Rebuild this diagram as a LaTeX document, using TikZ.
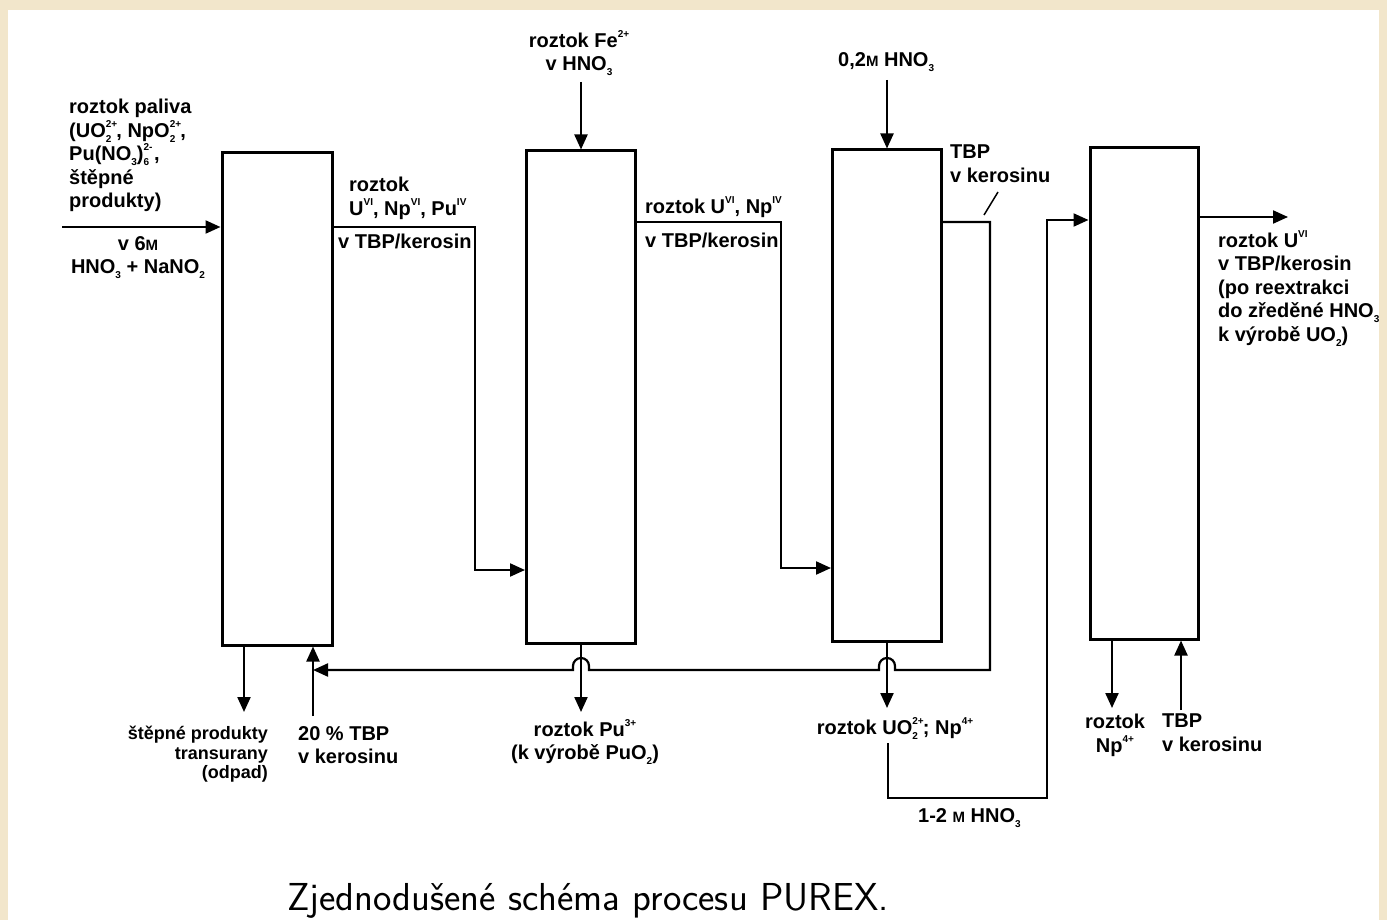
\documentclass[tikz,border=0pt]{standalone}
\usepackage{fontspec}
\setmainfont{Liberation Sans}
\usetikzlibrary{arrows.meta,calc}
\definecolor{paper}{HTML}{F2E6CB}
\newcommand\mysup[1]{\raisebox{0.5em}{\fontsize{10}{10}\selectfont #1}}
\newcommand\mysub[1]{\raisebox{-0.25em}{\fontsize{10}{10}\selectfont #1}}
\newcommand\mych[2]{\makebox[0pt][l]{\mysup{#2}}\mysub{#1}}
\newcommand\smM{{\fontsize{15}{15}\selectfont M}}
\begin{document}
\begin{tikzpicture}[x=1pt,y=-1pt,
  box/.style={draw,line width=3pt,inner sep=0pt},
  conn/.style={line width=2.2pt},
  arr/.style={conn,-{Triangle[length=15pt,width=13pt]}},
  lbl/.style={inner sep=0pt,align=left,font=\fontsize{20}{23.5}\selectfont\bfseries},
  lblc/.style={lbl,align=center},
  small/.style={inner sep=0pt,align=right,font=\fontsize{18}{19.5}\selectfont\bfseries}]
\useasboundingbox (0,0) rectangle (1387,920);
\fill[paper] (0,0) rectangle (1387,920);
\fill[white] (8,10) rectangle (1379,920);

% columns
\node[box,minimum width=110pt,minimum height=492pt] (b1) at (277,399) {};
\node[box,minimum width=109pt,minimum height=492pt] (b2) at (581,397) {};
\node[box,minimum width=109pt,minimum height=491pt] (b3) at (887,395.5) {};
\node[box,minimum width=108pt,minimum height=491pt] (b4) at (1144,393.5) {};

% coordinates
\coordinate (fin) at (62,227);
\coordinate (c1a) at (475,227);
\coordinate (c1b) at (475,570);
\coordinate (c2a) at (781,222);
\coordinate (c2b) at (781,568);
\coordinate (c3a) at (990,222);
\coordinate (c3b) at (990,670);
\coordinate (tbpin) at (313,716);
\coordinate (odp) at (244,712);
\coordinate (fein) at (581,82);
\coordinate (hin) at (887,80);
\coordinate (puout) at (581,712);
\coordinate (uoout) at (887,708);
\coordinate (uo1) at (888,743);
\coordinate (uo2) at (888,798);
\coordinate (uo3) at (1047,798);
\coordinate (uo4) at (1047,220);
\coordinate (uout) at (1288,217);
\coordinate (npout) at (1112,708);
\coordinate (tbp2in) at (1181,710);
\coordinate (tk1) at (998,192);
\coordinate (tk2) at (984,215);

% connectors
\draw[arr] (fin) -- (fin -| b1.west);
\draw[arr] (b1.east |- c1a) -- (c1a) -- (c1b) -- (b2.west |- c1b);
\draw[arr] (b2.east |- c2a) -- (c2a) -- (c2b) -- (b3.west |- c2b);
\draw[arr] (b3.east |- c3a) -- (c3a) -- (c3b) -- (895,670) -- (895,666)
  arc[start angle=0,end angle=-180,radius=8] -- (879,670) -- (589,670) -- (589,666)
  arc[start angle=0,end angle=-180,radius=8] -- (573,670) -- (tbpin |- c3b);
\draw[arr] (tbpin) -- (tbpin |- b1.south);
\draw[arr] (odp |- b1.south) -- (odp);
\draw[arr] (fein) -- (b2.north);
\draw[arr] (hin) -- (b3.north);
\draw[arr] (b2.south) -- (puout);
\draw[arr] (b3.south) -- (uoout);
\draw[arr] (uo1) -- (uo2) -- (uo3) -- (uo4) -- (b4.west |- uo4);
\draw[arr] (b4.east |- uout) -- (uout);
\draw[arr] (npout |- b4.south) -- (npout);
\draw[arr] (tbp2in) -- (tbp2in |- b4.south);
\draw[conn,line width=1.5pt] (tk1) -- (tk2);

% labels
\node[lbl,anchor=north west] (lfeed) at (69,99) {roztok paliva\\(UO\mych{2}{2+}\hspace{5pt}, NpO\mych{2}{2+}\hspace{5pt},\\Pu(NO\mysub{3})\mych{6}{2-}\hspace{5pt},\\štěpné\\produkty)};
\node[lblc,anchor=north] (lfeed2) at (138,236) {v 6\smM\\HNO\mysub{3} + NaNO\mysub{2}};
\node[lbl,anchor=north west] (lr1) at (349,177) {roztok\\U\mysup{VI}, Np\mysup{VI}, Pu\mysup{IV}};
\node[lbl,anchor=north west] (lk1) at (338,234) {v TBP/kerosin};
\node[lblc,anchor=north] (lfe) at (579,30) {roztok Fe\mysup{2+}\\v HNO\mysub{3}};
\node[lbl,anchor=north west] (l02) at (838,52) {0,2\smM\ HNO\mysub{3}};
\node[lbl,anchor=north west] (lr2) at (645,196) {roztok U\mysup{VI}, Np\mysup{IV}};
\node[lbl,anchor=north west] (lk2) at (645,233) {v TBP/kerosin};
\node[lbl,anchor=north west] (ltbp) at (950,145) {TBP\\v kerosinu};
\node[lbl,anchor=north west] (lout) at (1218,230) {roztok U\mysup{VI}\\v TBP/kerosin\\(po reextrakci\\do zředěné HNO\mysub{3}\\k výrobě UO\mysub{2})};
\node[small,anchor=north east] (lodp) at (268,726) {štěpné produkty\\transurany\\(odpad)};
\node[lbl,anchor=north west] (l20) at (298,726) {20 \% TBP\\v kerosinu};
\node[lblc,anchor=north] (lpu) at (585,719) {roztok Pu\mysup{3+}\\(k výrobě PuO\mysub{2})};
\node[lbl,anchor=north] (luo) at (895,717) {roztok UO\mych{2}{2+}\hspace{5pt}; Np\mysup{4+}};
\node[lbl,anchor=north west] (lhno) at (918,808) {1-2 \smM\ HNO\mysub{3}};
\node[lblc,anchor=north] (lnp) at (1115,714) {roztok\\Np\mysup{4+}};
\node[lbl,anchor=north west] (ltbp2) at (1162,714) {TBP\\v kerosinu};
\node[inner sep=0pt,anchor=base,font=\sffamily\fontsize{39}{42}\selectfont] (cap) at (588,910) {Zjednodušené schéma procesu PUREX.};
\end{tikzpicture}
\end{document}
